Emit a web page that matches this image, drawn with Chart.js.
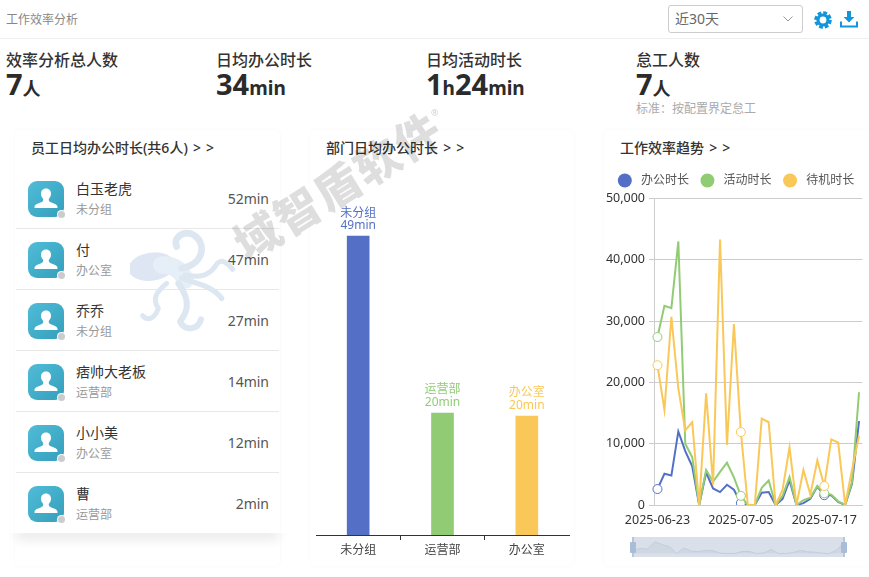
<!DOCTYPE html>
<html lang="zh"><head><meta charset="utf-8">
<script src="https://cdn.jsdelivr.net/npm/chart.js@4"></script>
<style>
*{box-sizing:border-box}
html,body{margin:0;padding:0;background:#fff;width:869px;height:577px;overflow:hidden;font-family:"Noto Sans","Noto Sans CJK SC",sans-serif}
.a{position:absolute;white-space:nowrap;line-height:1}
.card{position:absolute;top:130px;height:436px;border-radius:4px;box-shadow:0 0 3px rgba(0,0,0,.035)}
.t{font-size:14px;font-weight:500;color:#333;top:141px;word-spacing:1.5px}
.lab{font-size:16px;font-weight:500;color:#333;top:52px}
.num{top:69px;font-weight:700;color:#2b2b2b;font-size:29px;line-height:30px}
.num small{font-size:19px}.num i{font-style:normal;font-size:18px}
canvas{position:absolute}
</style></head><body>
<div class="a" style="left:6px;top:14px;font-size:12px;color:#888">工作效率分析</div>
<div class="a" style="left:0;top:38px;width:869px;height:1px;background:#eee"></div>
<div class="a" style="left:668px;top:5px;width:135px;height:28px;border:1px solid #ccc;border-radius:3px"></div>
<div class="a" style="left:675px;top:12px;font-size:14px;color:#666">近30天</div>
<svg class="a" style="left:782px;top:15px" width="12" height="8"><path d="M1.5 1.5L6 6l4.5-4.5" fill="none" stroke="#999" stroke-width="1"/></svg>
<svg class="a" style="left:814px;top:11px" width="18" height="18" viewBox="0 0 18 18"><circle cx="9" cy="9" r="7" fill="none" stroke="#1296db" stroke-width="3.6" stroke-dasharray="3.7 1.8"/><circle cx="9" cy="9" r="5" fill="none" stroke="#1296db" stroke-width="3.2"/></svg>
<svg class="a" style="left:840px;top:10px" width="18" height="18" viewBox="0 0 18 18"><path d="M7 1h4v6h3.4L9 12.4 3.6 7H7z" fill="#1296db"/><path d="M1 11.5V16.5H17V11.5" fill="none" stroke="#1296db" stroke-width="2"/></svg>

<div class="a lab" style="left:6px">效率分析总人数</div>
<div class="a num" style="left:6px">7<i>人</i></div>
<div class="a lab" style="left:216px">日均办公时长</div>
<div class="a num" style="left:216px">34<small>min</small></div>
<div class="a lab" style="left:426px">日均活动时长</div>
<div class="a num" style="left:426px">1<small>h</small>24<small>min</small></div>
<div class="a lab" style="left:636px">怠工人数</div>
<div class="a num" style="left:636px">7<i>人</i></div>
<div class="a" style="left:636px;top:103px;font-size:12px;color:#aaa">标准：按配置界定怠工</div>

<div class="card" style="left:15px;width:265px"></div>
<div class="card" style="left:310px;width:264px"></div>
<div class="card" style="left:604px;width:265px"></div>
<div class="a t" style="left:31px">员工日均办公时长(共6人) &gt; &gt;</div>
<div class="a t" style="left:326px">部门日均办公时长 &gt; &gt;</div>
<div class="a t" style="left:620px">工作效率趋势 &gt; &gt;</div>
<div id="list"></div>

<canvas id="bar" width="262" height="370" style="left:312px;top:190px;width:262px;height:370px"></canvas>
<canvas id="line" width="264" height="405" style="left:604px;top:160px;width:264px;height:405px"></canvas>
<div class="a" style="left:633px;top:537px;width:211px;height:20px;background:#d9e0ea"></div>
<canvas id="mini" width="211" height="20" style="left:633px;top:537px;width:211px;height:20px"></canvas>
<div class="a" style="left:632px;top:537px;width:2px;height:20px;background:#b9c6da"></div>
<div class="a" style="left:843px;top:537px;width:2px;height:20px;background:#b9c6da"></div>
<div class="a" style="left:630px;top:542px;width:6px;height:11px;background:#a9bcd8;border-radius:1px"></div>
<div class="a" style="left:841px;top:542px;width:6px;height:11px;background:#a9bcd8;border-radius:1px"></div>

<svg class="a" style="left:130px;top:220px;pointer-events:none" width="120" height="130" viewBox="0 0 360 390">
<g fill="none" stroke="#dde7f2" stroke-linecap="round" stroke-linejoin="round">
<ellipse cx="65" cy="140" rx="70" ry="42" fill="#dde6f2" stroke="none" transform="rotate(-8 65 140)"/>
<path d="M95 135Q150 135 165 180" stroke-width="52" stroke="#e6eef7"/>
<path d="M155 145C230 130 228 60 185 42C155 32 130 55 140 80" stroke-width="20"/>
<path d="M165 165C215 175 240 165 262 130C275 115 295 130 308 148" stroke-width="15"/>
<path d="M155 175C200 190 250 200 275 235" stroke-width="16"/>
<path d="M145 190C190 250 165 285 150 305C165 335 205 330 213 298" stroke-width="18"/>
<path d="M110 190C80 215 65 235 85 265C75 295 55 305 38 287" stroke-width="15"/>
</g></svg>
<div class="a" style="left:218px;top:163px;width:240px;text-align:center;font-size:45px;font-weight:900;letter-spacing:2px;color:rgba(0,0,0,.13);transform:rotate(-32deg);pointer-events:none">域智盾软件</div>
<div class="a" style="left:431px;top:108px;font-size:9px;color:rgba(0,0,0,.2);pointer-events:none">®</div>

<script>
const staffNames = ['白玉老虎','付','乔乔','痞帅大老板','小小美','曹'];
const staffDepts = ['未分组','办公室','未分组','运营部','办公室','运营部'];
const staffMinutes = ['52min','47min','27min','14min','12min','2min'];

const deptNames = ['未分组','运营部','办公室'];
const deptMinutes = [49, 20, 19.5];
const deptLabels = ['49min','20min','20min'];

const dates = ['2025-06-23','2025-06-24','2025-06-25','2025-06-26','2025-06-27','2025-06-28','2025-06-29','2025-06-30','2025-07-01','2025-07-02','2025-07-03','2025-07-04','2025-07-05','2025-07-06','2025-07-07','2025-07-08','2025-07-09','2025-07-10','2025-07-11','2025-07-12','2025-07-13','2025-07-14','2025-07-15','2025-07-16','2025-07-17','2025-07-18','2025-07-19','2025-07-20','2025-07-21','2025-07-22'];
const shownDates = ['2025-06-23','2025-07-05','2025-07-17'];
const officeTime = [2600,5100,4800,12000,8800,6300,0,5300,2700,2100,3300,2500,300,0,0,2000,2100,0,1000,4000,0,300,1000,3000,1600,1600,500,0,3500,13700];
const activeTime = [27400,32500,32100,43000,10000,7800,0,5700,3800,5400,6900,4500,1500,0,0,2800,4000,0,1500,4600,0,800,1200,3100,1900,1700,600,0,3800,18400];
const idleTime = [22800,15500,30700,19000,12200,13500,0,18200,3300,43300,9800,29500,11900,0,0,14100,13500,0,2500,9400,0,5700,1700,7300,3100,10700,10200,0,5800,11300];
const sliderOutline = [8,15,13,34,26,20,0,16,7,6,9,8,1,0,0,6,6,0,2,12,0,0,3,9,5,4,1,0,10,32];

const BLUE='#5470c6',GREEN='#91cc75',YELLOW='#fac858';
const FONT='"Noto Sans","Noto Sans CJK SC",sans-serif';
Chart.defaults.font.family=FONT;
Chart.defaults.animation=false;
Chart.defaults.responsive=false;
Chart.defaults.devicePixelRatio=1;

const list=document.getElementById('list');
staffNames.forEach((n,i)=>{
  const c=199+61*i;
  list.insertAdjacentHTML('beforeend',`
  <svg class="a" style="left:28px;top:${c-18}px" width="36" height="36" viewBox="0 0 36 36">
   <defs><linearGradient id="g${i}" x1="0" y1="0" x2="1" y2="1"><stop offset="0" stop-color="#4fbcd8"/><stop offset="1" stop-color="#369fbb"/></linearGradient></defs>
   <rect width="36" height="36" rx="9" fill="url(#g${i})"/>
   <path d="M18 7.5c-3.4 0-5.2 2.6-5 5.6.1 2 1 3.6 2.2 4.8.3 1.6-.4 2.7-2 3.400-2.600 1-5.200 1.700-6.200 3.200-.5.800-.5 1.500-.5 2.500h23c0-1 0-1.700-.5-2.500-1-1.500-3.600-2.200-6.200-3.200-1.600-.7-2.300-1.800-2-3.400 1.200-1.200 2.100-2.800 2.200-4.800.2-3-1.600-5.600-5-5.600z" fill="#fff"/>
  </svg>
  <div class="a" style="left:58px;top:${c+12}px;width:7px;height:7px;border-radius:50%;background:#ccc;box-shadow:0 0 0 1px #fff"></div>
  <div class="a" style="left:76px;top:${c-17}px;font-size:14px;color:#333">${n}</div>
  <div class="a" style="left:76px;top:${c+5}px;font-size:12px;color:#999">${staffDepts[i]}</div>
  <div class="a" style="right:600px;top:${c-7.5}px;font-size:14px;color:#555">${staffMinutes[i]}</div>
  ${i<5?`<div class="a" style="left:16px;top:${c+29}px;width:263px;height:1px;background:#e8e8e8"></div>`:''}`);
});
list.insertAdjacentHTML('beforeend','<div class="a" style="left:16px;top:523px;width:263px;height:10px;box-shadow:0 6px 12px rgba(0,0,0,.10);clip-path:inset(10px -20px -20px -20px)"></div>');

const barLabels={id:'barLabels',afterDatasetsDraw(ch){
  const {ctx}=ch, m=ch.getDatasetMeta(0);
  ctx.save();ctx.font='12px '+FONT;ctx.textAlign='center';ctx.textBaseline='middle';
  m.data.forEach((b,i)=>{
    ctx.fillStyle=[BLUE,GREEN,YELLOW][i];
    ctx.fillText(deptNames[i],b.x,b.y-23);
    ctx.fillText(deptLabels[i],b.x,b.y-10.5);
  });
  ctx.restore();
}};
new Chart(document.getElementById('bar'),{type:'bar',
 data:{labels:deptNames,datasets:[{data:deptMinutes,backgroundColor:[BLUE,GREEN,YELLOW],barThickness:22}]},
 plugins:[barLabels],
 options:{layout:{padding:{left:4,right:5,top:40,bottom:0}},
  plugins:{legend:{display:false},tooltip:{enabled:false}},
  scales:{y:{display:false,min:0,max:50},
   x:{afterFit:s=>{s.height=25},
      border:{color:'#333',width:1},
      grid:{offset:true,drawOnChartArea:false,tickLength:5,tickColor:c=>(c.index>0&&c.index<3)?'#333':'transparent'},
      ticks:{color:'#444',font:{size:12},padding:3,maxRotation:0}}}}});

const mk=(label,data,color,order)=>({label,data,borderColor:color,backgroundColor:color,borderWidth:2,tension:0,order,xAxisID:'x',yAxisID:'y',
  pointBackgroundColor:'#fff',pointBorderColor:color,pointBorderWidth:1,
  pointRadius:c=>shownDates.includes(dates[c.dataIndex])?4.5:0});
const legendColors=[BLUE,GREEN,YELLOW];
new Chart(document.getElementById('line'),{type:'line',
 data:{labels:dates,datasets:[mk('办公时长',officeTime,BLUE,3),mk('活动时长',activeTime,GREEN,2),mk('待机时长',idleTime,YELLOW,1)]},
 options:{layout:{padding:{left:0,right:0,top:3,bottom:0}},
  plugins:{tooltip:{enabled:false},
   legend:{position:'top',align:'center',
    labels:{usePointStyle:true,pointStyle:'circle',pointStyleWidth:14,boxHeight:10,padding:11.5,color:'#555',font:{size:12},
     sort:(a,b)=>a.datasetIndex-b.datasetIndex,
     generateLabels(ch){return Chart.defaults.plugins.legend.labels.generateLabels(ch).map(l=>({...l,text:' '+l.text,fillStyle:legendColors[l.datasetIndex],strokeStyle:legendColors[l.datasetIndex],lineWidth:0}))}}}},
  scales:{
   y:{min:0,max:50000,afterFit:s=>{s.width=50},
      border:{color:'#ccc'},grid:{color:'#ccc',tickLength:5},
      ticks:{stepSize:10000,color:'#333',font:{size:12.5},padding:4,callback:v=>v.toLocaleString('en-US')}},
   pad:{position:'right',afterFit:s=>{s.width=5},border:{display:false},grid:{display:false},ticks:{display:false}},
   padTop:{axis:'x',type:'category',position:'top',afterFit:s=>{s.height=2},border:{display:false},grid:{display:false},ticks:{display:false}},
   x:{offset:true,afterFit:s=>{s.height=60},
      border:{color:'#ccc'},grid:{display:false},
      ticks:{autoSkip:false,maxRotation:0,color:'#333',font:{size:12.5},padding:0,
        callback(v){const d=this.getLabelForValue(v);return shownDates.includes(d)?d:''}}}}}});

new Chart(document.getElementById('mini'),{type:'line',
 data:{labels:dates,datasets:[{data:sliderOutline,borderColor:'#c3ccda',borderWidth:1,backgroundColor:'#cfd7e3',fill:true,pointRadius:0,tension:0}]},
 options:{layout:{padding:0},plugins:{legend:{display:false},tooltip:{enabled:false}},
  scales:{x:{display:false},y:{display:false,min:-10,max:48}}}});
</script>
</body></html>
